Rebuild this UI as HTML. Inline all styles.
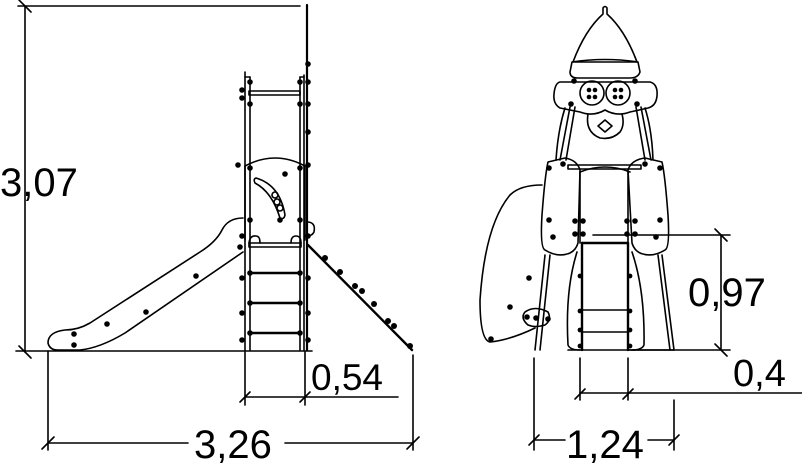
<!DOCTYPE html>
<html><head><meta charset="utf-8"><style>
html,body{margin:0;padding:0;background:#fff;width:802px;height:468px;overflow:hidden}
svg{display:block}
text{font-family:"Liberation Sans",sans-serif;fill:#000}
</style></head><body>
<svg width="802" height="468" viewBox="0 0 802 468" xmlns="http://www.w3.org/2000/svg">
<g fill="none" stroke="#000" stroke-width="1.6" stroke-linecap="round" stroke-linejoin="round">
<!-- LEFT VIEW dims -->
<line x1="25" y1="6" x2="25" y2="352"/>
<line x1="18" y1="6" x2="300" y2="6"/>
<line x1="19" y1="0" x2="31" y2="12"/>
<line x1="19" y1="346" x2="31" y2="358"/>
<line x1="16" y1="351" x2="312" y2="351"/>
<line x1="48" y1="351" x2="48" y2="450"/>
<line x1="413" y1="355" x2="413" y2="450"/>
<line x1="48" y1="443" x2="188" y2="443"/>
<line x1="285" y1="443" x2="413" y2="443"/>
<line x1="42" y1="449" x2="54" y2="437"/>
<line x1="407" y1="449" x2="419" y2="437"/>
<line x1="245" y1="352" x2="245" y2="405"/>
<line x1="305" y1="352" x2="305" y2="405"/>
<line x1="245" y1="397" x2="398" y2="397"/>
<line x1="240" y1="402" x2="250" y2="392"/>
<line x1="300" y1="402" x2="310" y2="392"/>
<!-- tower -->
<line x1="307" y1="5" x2="307" y2="350" stroke-width="2.2"/>
<line x1="245" y1="72" x2="245" y2="350"/>
<line x1="250" y1="77" x2="250" y2="350"/>
<line x1="300" y1="77" x2="300" y2="350"/>
<line x1="304" y1="75" x2="304" y2="350"/>
<line x1="250" y1="77" x2="245" y2="77"/>
<line x1="300" y1="77" x2="304" y2="77"/>
<rect x="249" y="91" width="51" height="4"/>
<path d="M245 166 Q275 150 305 166"/>
<line x1="245" y1="166" x2="245" y2="240"/>
<line x1="305" y1="166" x2="305" y2="240"/>
<rect x="249" y="243" width="52" height="4"/>
<path d="M249 243 Q250 235 256 236 Q260 236 260 243"/>
<path d="M291 243 Q291 236 296 236 Q301 236 301 243"/>
<path d="M256 178 Q280 185 285 215 Q284 220 280 218 Q272 192 255 183 Q253 179 256 178Z"/>
<circle cx="275" cy="195" r="3"/><circle cx="277" cy="202" r="3"/><circle cx="280" cy="208" r="3"/>
<path d="M307 222 Q316 222 314 232 Q312 236 307 236"/>
<line x1="250" y1="273" x2="300" y2="273" stroke-width="2.4"/>
<line x1="250" y1="303" x2="300" y2="303" stroke-width="2.4"/>
<line x1="250" y1="333" x2="300" y2="333" stroke-width="2.4"/>
<!-- slide -->
<path d="M243 218 Q228 218 222 230 Q216 242 200 252 L90 323 Q78 330 65 330 Q48 332 48 343 Q50 351 60 350 L80 350 Q100 348 125 333 L243 252"/>
<!-- climbing wall -->
<line x1="308" y1="245" x2="412" y2="350" stroke-width="2.4"/>
</g>
<g fill="#000">
<circle cx="250" cy="82" r="2.8"/><circle cx="300" cy="82" r="2.8"/><circle cx="242" cy="90" r="2.8"/><circle cx="242" cy="98" r="2.8"/>
<circle cx="250" cy="104" r="2.8"/><circle cx="300" cy="104" r="2.8"/><circle cx="308" cy="64" r="2.8"/><circle cx="308" cy="82" r="2.8"/>
<circle cx="308" cy="104" r="2.8"/><circle cx="308" cy="132" r="2.8"/><circle cx="238" cy="165" r="2.8"/><circle cx="308" cy="165" r="2.8"/>
<circle cx="250" cy="168" r="2.8"/><circle cx="300" cy="168" r="2.8"/><circle cx="285" cy="174" r="2.8"/>
<circle cx="250" cy="220" r="2.8"/><circle cx="300" cy="220" r="2.8"/><circle cx="280" cy="220" r="2.8"/>
<circle cx="242" cy="236" r="2.8"/><circle cx="240" cy="247" r="2.8"/><circle cx="308" cy="236" r="2.8"/>
<circle cx="250" cy="273" r="2.8"/><circle cx="300" cy="273" r="2.8"/><circle cx="242" cy="278" r="2.8"/><circle cx="308" cy="278" r="2.8"/>
<circle cx="250" cy="303" r="2.8"/><circle cx="300" cy="303" r="2.8"/><circle cx="242" cy="313" r="2.8"/><circle cx="308" cy="313" r="2.8"/>
<circle cx="250" cy="333" r="2.8"/><circle cx="300" cy="333" r="2.8"/><circle cx="242" cy="340" r="2.8"/><circle cx="308" cy="340" r="2.8"/>
<circle cx="196" cy="276" r="2.8"/><circle cx="146" cy="312" r="2.8"/><circle cx="107" cy="324" r="2.8"/><circle cx="74" cy="334" r="2.8"/><circle cx="74" cy="345" r="2.8"/>
<circle cx="325" cy="258" r="3"/><circle cx="340" cy="272" r="3"/><circle cx="355" cy="286" r="3"/><circle cx="362" cy="291" r="3"/>
<circle cx="374" cy="304" r="3"/><circle cx="388" cy="321" r="3"/><circle cx="394" cy="326" r="3"/><circle cx="410" cy="346" r="3"/>
</g>
<!-- RIGHT VIEW -->
<g fill="none" stroke="#000" stroke-width="1.6" stroke-linecap="round" stroke-linejoin="round">
<path d="M603 8 Q605 5 607 8 L607 14 Q625 30 637 62 L573 62 Q585 30 603 14 Z"/>
<path d="M572 62 Q605 57 638 62 L640 72 Q638 78 630 78 L578 78 Q570 78 570 72 Z"/>
<path d="M560 82 L650 82 Q658 84 657 96 Q656 106 648 108 L630 112 Q617 117 605 110 Q593 117 580 112 L560 108 Q553 104 554 94 Q555 83 560 82Z"/>
<circle cx="592" cy="93" r="12"/><circle cx="618" cy="93" r="12"/>
<path d="M588 114 Q585 132 600 138 Q612 140 620 132 Q625 125 622 114"/>
<path d="M598 126 L605 120 L612 126 L605 132 Z"/>
<line x1="570" y1="107" x2="560" y2="160"/><line x1="575" y1="107" x2="566" y2="160"/><path d="M565 108 Q558 130 556 160"/>
<line x1="636" y1="107" x2="645" y2="160"/><line x1="641" y1="107" x2="651" y2="160"/><path d="M645 108 Q652 130 653 160"/>
<path d="M548 162 Q545 175 542 215 Q540 248 545 250 Q558 258 570 253 Q576 250 578 243 L580 170 Q577 160 565 158 Z"/>
<path d="M662 162 Q665 175 668 215 Q670 248 665 250 Q652 258 640 253 Q634 250 632 243 L628 170 Q631 160 645 158 Z"/>
<rect x="568" y="165" width="73" height="4"/>
<path d="M580 172 Q605 162 630 172"/>
<line x1="580" y1="172" x2="580" y2="243"/><line x1="628" y1="172" x2="628" y2="243"/>
<path d="M577 252 Q565 290 568 345 Q570 350 580 350"/>
<path d="M632 252 Q645 290 644 345 Q642 350 632 350"/>
<line x1="582" y1="243" x2="582" y2="350" stroke-width="2.4"/><line x1="628" y1="243" x2="628" y2="350" stroke-width="2.4"/>
<line x1="582" y1="243" x2="628" y2="243" stroke-width="2.4"/>
<line x1="582" y1="310" x2="628" y2="310"/><line x1="582" y1="332" x2="628" y2="332"/>
<line x1="568" y1="350" x2="674" y2="350"/>
<line x1="545" y1="255" x2="535" y2="350"/><line x1="550" y1="255" x2="540" y2="350"/>
<line x1="658" y1="255" x2="670" y2="350"/><line x1="662" y1="255" x2="674" y2="350"/>
<path d="M542 185 Q520 185 510 195 Q485 225 480 300 Q480 340 490 342 Q510 340 535 328"/>
<path d="M525 312 Q535 305 548 312 Q552 320 545 325 Q535 328 528 325 Q520 318 525 312Z"/>
<line x1="593" y1="235" x2="730" y2="235"/>
<line x1="721" y1="235" x2="721" y2="350"/>
<line x1="628" y1="350" x2="730" y2="350"/>
<line x1="715" y1="229" x2="727" y2="241"/>
<line x1="715" y1="344" x2="727" y2="356"/>
<line x1="580" y1="358" x2="580" y2="400"/><line x1="628" y1="358" x2="628" y2="400"/>
<line x1="580" y1="393" x2="802" y2="393"/>
<line x1="575" y1="399" x2="585" y2="389"/><line x1="623" y1="399" x2="633" y2="389"/>
<line x1="534" y1="358" x2="534" y2="450"/><line x1="674" y1="400" x2="674" y2="450"/>
<line x1="534" y1="440" x2="565" y2="440"/><line x1="648" y1="440" x2="674" y2="440"/>
<line x1="529" y1="445" x2="539" y2="435"/><line x1="669" y1="445" x2="679" y2="435"/>
</g>
<g fill="#000">
<circle cx="574" cy="81" r="2.8"/><circle cx="635" cy="81" r="2.8"/><circle cx="571" cy="104" r="2.8"/><circle cx="637" cy="104" r="2.8"/>
<circle cx="549" cy="168" r="2.8"/><circle cx="563" cy="164" r="2.8"/><circle cx="645" cy="164" r="2.8"/><circle cx="660" cy="168" r="2.8"/>
<circle cx="549" cy="220" r="2.8"/><circle cx="575" cy="221" r="2.8"/><circle cx="583" cy="221" r="2.8"/><circle cx="627" cy="221" r="2.8"/><circle cx="635" cy="221" r="2.8"/><circle cx="660" cy="220" r="2.8"/>
<circle cx="553" cy="237" r="2.8"/><circle cx="575" cy="234" r="2.8"/><circle cx="583" cy="234" r="2.8"/><circle cx="627" cy="234" r="2.8"/><circle cx="635" cy="234" r="2.8"/><circle cx="656" cy="237" r="2.8"/>
<circle cx="580" cy="276" r="2.4"/><circle cx="630" cy="276" r="2.4"/><circle cx="580" cy="311" r="2.4"/><circle cx="630" cy="311" r="2.4"/>
<circle cx="580" cy="330" r="2.4"/><circle cx="630" cy="330" r="2.4"/><circle cx="580" cy="346" r="2.4"/><circle cx="630" cy="346" r="2.4"/>
<circle cx="529" cy="278" r="2.8"/><circle cx="510" cy="307" r="2.8"/><circle cx="491" cy="339" r="2.8"/>
<circle cx="527" cy="317" r="2.8"/><circle cx="536" cy="318" r="2.8"/><circle cx="548" cy="319" r="2.8"/>
<circle cx="589" cy="90" r="2.3"/><circle cx="595" cy="90" r="2.3"/><circle cx="589" cy="97" r="2.3"/><circle cx="595" cy="97" r="2.3"/>
<circle cx="615" cy="90" r="2.3"/><circle cx="621" cy="90" r="2.3"/><circle cx="615" cy="97" r="2.3"/><circle cx="621" cy="97" r="2.3"/>
</g>
<text x="0" y="196" font-size="40">3,07</text>
<text x="311" y="390" font-size="37">0,54</text>
<text x="194" y="458" font-size="40">3,26</text>
<text x="688" y="306" font-size="40">0,97</text>
<text x="733" y="386" font-size="38">0,4</text>
<text x="566" y="458" font-size="40">1,24</text>
</svg>
</body></html>
